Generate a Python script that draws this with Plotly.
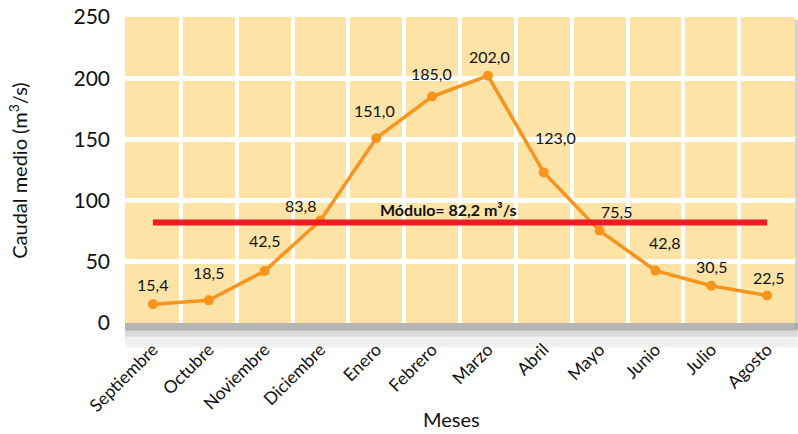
import plotly.graph_objects as go

meses = ["Septiembre", "Octubre", "Noviembre", "Diciembre", "Enero", "Febrero",
         "Marzo", "Abril", "Mayo", "Junio", "Julio", "Agosto"]
caudal = [15.4, 18.5, 42.5, 83.8, 151.0, 185.0, 202.0, 123.0, 75.5, 42.8, 30.5, 22.5]
modulo = 82.2
y_ticks = [0, 50, 100, 150, 200, 250]

# label offsets (px) for data labels: style only
label_dx = [0, 0, 0, -20, -2, -1, 2, 12, 17, 9, 0, 1]
label_dy = [20, 28, 30, 15, 28, 23, 19, 35, 19, 28, 19, 18]

FONT = "Lato"
fig = go.Figure()

fig.add_trace(go.Scatter(
    x=meses, y=caudal, mode="lines+markers",
    line=dict(color="#F7941D", width=3.5),
    marker=dict(color="#F7941D", size=10),
    hoverinfo="skip", showlegend=False,
))
fig.add_trace(go.Scatter(
    x=[meses[0], meses[-1]], y=[modulo, modulo], mode="lines",
    line=dict(color="#ED1C24", width=6),
    hoverinfo="skip", showlegend=False,
))

annotations = []
for m, v, dx, dy in zip(meses, caudal, label_dx, label_dy):
    annotations.append(dict(
        x=m, y=v, xref="x", yref="y", text=f"{v:.1f}".replace(".", ","),
        showarrow=False, xshift=dx, yshift=dy,
        font=dict(family=FONT, size=16, color="#111111"),
    ))
annotations.append(dict(
    x=5.3, y=modulo, xref="x", yref="y", yshift=13,
    text="<b>Módulo= " + f"{modulo:.1f}".replace(".", ",") + " m³/s</b>",
    showarrow=False, font=dict(family=FONT, size=16, color="#111111"),
))
annotations.append(dict(
    x=-0.16, y=0.5, xref="paper", yref="paper", xanchor="center", yanchor="middle",
    text="Caudal medio (m<sup>3</sup>/s)",
    textangle=-90, showarrow=False, font=dict(family=FONT, size=20, color="#111111"),
))
annotations.append(dict(
    x=0.488, y=-0.315, xref="paper", yref="paper", xanchor="center", yanchor="middle",
    text="Meses",
    showarrow=False, font=dict(family=FONT, size=20, color="#111111"),
))

shapes = []
shadow = [(0.0, 0.025, "rgba(120,120,120,0.55)"),
          (0.025, 0.045, "rgba(150,150,150,0.35)"),
          (0.045, 0.08, "rgba(180,180,180,0.18)")]
for a, b, c in shadow:
    shapes.append(dict(type="rect", xref="paper", yref="paper",
                       x0=0, x1=1.004, y0=-b, y1=-a,
                       fillcolor=c, line=dict(width=0), layer="below"))
shapes.append(dict(type="rect", xref="paper", yref="paper",
                   x0=1.0, x1=1.005, y0=-0.02, y1=0.99,
                   fillcolor="rgba(150,150,150,0.4)", line=dict(width=0), layer="below"))

fig.update_layout(
    width=798, height=434,
    margin=dict(l=125, r=3, t=15, b=111),
    paper_bgcolor="white", plot_bgcolor="#FEE3A6",
    font=dict(family=FONT, color="#111111"),
    annotations=annotations, shapes=shapes,
    xaxis=dict(
        type="category", tickangle=-45, tickson="boundaries",
        showgrid=True, gridcolor="white", gridwidth=3.5,
        ticks="", showline=False, zeroline=False,
        ticklabelstandoff=12,
        tickfont=dict(family=FONT, size=17.5, color="#111111"),
        range=[-0.5, 11.5],
    ),
    yaxis=dict(
        range=[0, 250], tickvals=y_ticks,
        showgrid=True, gridcolor="white", gridwidth=5,
        ticks="", showline=False, zeroline=False,
        ticklabelstandoff=14,
        tickfont=dict(family=FONT, size=21, color="#111111"),
    ),
)

fig.write_html("out.html", post_script="document.body.style.margin='0';",
               config={"displayModeBar": False})
